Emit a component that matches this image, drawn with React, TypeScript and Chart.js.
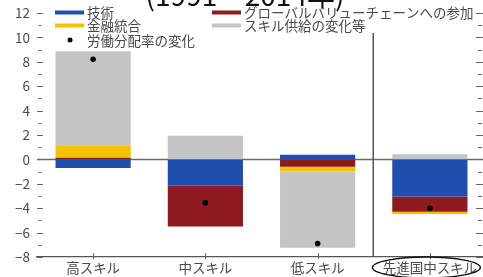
import React, { useEffect, useRef } from "react";
import { Chart, registerables } from "chart.js";

Chart.register(...registerables);

const categories = ["高スキル", "中スキル", "低スキル", "先進国中スキル"];
const technology = [-0.7, -2.15, 0.38, -3.05];
const gvc = [0.13, -3.35, -0.6, -1.25];
const financial = [1.02, 0, -0.4, -0.18];
const skillSupply = [7.72, 1.93, -6.25, 0.43];
const laborShare = [8.2, -3.55, -6.9, -4.0];
const yTicks = { min: -8, max: 12, step: 2 };
const titleText = "(1991 – 2014年)";
const legendItems = [
  { label: "技術", color: "#1f4fae", kind: "line" },
  { label: "グローバルバリューチェーンへの参加", color: "#8c1a1f", kind: "line" },
  { label: "金融統合", color: "#f5c200", kind: "line" },
  { label: "スキル供給の変化等", color: "#c4c4c4", kind: "line" },
  { label: "労働分配率の変化", color: "#000000", kind: "dot" },
];

const FONT = '"Noto Sans CJK JP", "Noto Sans", sans-serif';
const TEXT = "#4a4a4a";
const VIEW_W = 483;
const CANVAS_W = 490;

const decorPlugin = {
  id: "decor",
  beforeDatasetsDraw(chart: any) {
    const { ctx, chartArea, scales } = chart;
    const y = scales.y;
    const y0 = y.getPixelForValue(0);
    ctx.save();
    ctx.strokeStyle = "#6a6a6a";
    ctx.lineWidth = 1.5;
    ctx.beginPath();
    ctx.moveTo(chartArea.left, y0);
    ctx.lineTo(chartArea.right, y0);
    ctx.stroke();
    ctx.restore();
  },
  afterDraw(chart: any) {
    const { ctx, chartArea, scales } = chart;
    const y = scales.y;
    const x = scales.x;
    ctx.save();
    // y ticks left and right
    ctx.strokeStyle = "#666";
    ctx.lineWidth = 1;
    const rightEdge = VIEW_W;
    for (let v = yTicks.min; v <= yTicks.max; v++) {
      const py = Math.round(y.getPixelForValue(v)) + 0.5;
      const major = v % 2 === 0;
      ctx.beginPath();
      if (major) {
        ctx.moveTo(chartArea.left, py);
        ctx.lineTo(chartArea.left + 6, py);
        ctx.moveTo(rightEdge - 7, py);
        ctx.lineTo(rightEdge, py);
      } else {
        ctx.moveTo(chartArea.left + 1.5, py);
        ctx.lineTo(chartArea.left + 4.5, py);
        ctx.moveTo(rightEdge - 5, py);
        ctx.lineTo(rightEdge - 1, py);
      }
      ctx.stroke();
    }
    // x ticks
    categories.forEach((_, i) => {
      const px = Math.round(x.getPixelForValue(i)) + 0.5;
      ctx.beginPath();
      ctx.moveTo(px, chartArea.bottom - 4);
      ctx.lineTo(px, chartArea.bottom + 2);
      ctx.stroke();
    });
    // separator
    const sepX = (x.getPixelForValue(2) + x.getPixelForValue(3)) / 2 - 0.5;
    ctx.strokeStyle = "#555";
    ctx.lineWidth = 1.5;
    ctx.beginPath();
    ctx.moveTo(sepX, 33);
    ctx.lineTo(sepX, chartArea.bottom);
    ctx.stroke();
    // title (clipped at top)
    ctx.fillStyle = "#111";
    ctx.font = `28px ${FONT}`;
    ctx.textAlign = "center";
    ctx.textBaseline = "alphabetic";
    ctx.fillText(titleText, 245, 6);
    // legend
    ctx.font = `13.5px ${FONT}`;
    ctx.textAlign = "left";
    ctx.textBaseline = "middle";
    const pos = [
      { x: 55, y: 12.5 },
      { x: 212, y: 12.5 },
      { x: 55, y: 25.5 },
      { x: 212, y: 25.5 },
      { x: 55, y: 40 },
    ];
    legendItems.forEach((it, i) => {
      const p = pos[i];
      if (it.kind === "line") {
        ctx.strokeStyle = it.color;
        ctx.lineWidth = 4;
        ctx.beginPath();
        ctx.moveTo(p.x, p.y);
        ctx.lineTo(p.x + 29, p.y);
        ctx.stroke();
      } else {
        ctx.fillStyle = "#000";
        ctx.beginPath();
        ctx.arc(p.x + 15, p.y, 2.5, 0, Math.PI * 2);
        ctx.fill();
      }
      ctx.fillStyle = TEXT;
      ctx.fillText(it.label, p.x + 32, p.y + 0.5);
    });
    // ellipse around last category label
    const cx = x.getPixelForValue(3);
    ctx.strokeStyle = "#111";
    ctx.lineWidth = 1.3;
    ctx.beginPath();
    ctx.ellipse(cx - 3.5, 267.5, 54, 10.5, 0, 0, Math.PI * 2);
    ctx.stroke();
    ctx.restore();
  },
};

export default function App() {
  const ref = useRef<HTMLCanvasElement | null>(null);
  useEffect(() => {
    if (!ref.current) return;
    const barCommon = { stack: "s", categoryPercentage: 1, barPercentage: 0.67, borderWidth: 0 };
    const chart = new Chart(ref.current, {
      type: "bar",
      data: {
        labels: categories,
        datasets: [
          { ...barCommon, label: "技術", data: technology, backgroundColor: "#1f4fae" },
          { ...barCommon, label: "グローバルバリューチェーンへの参加", data: gvc, backgroundColor: "#8c1a1f" },
          { ...barCommon, label: "金融統合", data: financial, backgroundColor: "#f5c200" },
          { ...barCommon, label: "スキル供給の変化等", data: skillSupply, backgroundColor: "#c4c4c4" },
          {
            type: "line",
            label: "労働分配率の変化",
            data: laborShare,
            stack: "dots",
            showLine: false,
            pointRadius: 2.8,
            pointBackgroundColor: "#000",
            pointBorderWidth: 0,
            borderColor: "#000",
            order: -1,
          } as any,
        ],
      },
      options: {
        animation: false,
        responsive: false,
        maintainAspectRatio: false,
        layout: { padding: { top: 13, right: 0, left: 0, bottom: 0 } },
        plugins: { legend: { display: false }, tooltip: { enabled: false }, title: { display: false } },
        scales: {
          x: {
            stacked: true,
            grid: { display: false, drawTicks: false },
            border: { display: true, color: "#555", width: 1.3 },
            ticks: { color: TEXT, font: { family: FONT, size: 13.5 }, padding: 3, maxRotation: 0, autoSkip: false },
            afterFit: (s: any) => { s.height = 20; s.paddingLeft = 0; s.paddingRight = 0; },
          },
          y: {
            stacked: true,
            min: yTicks.min,
            max: yTicks.max,
            grid: { display: false, drawTicks: false },
            border: { display: false },
            ticks: {
              stepSize: yTicks.step,
              color: TEXT,
              font: { family: FONT, size: 13.5 },
              padding: 7,
              callback: (v: any) => (v < 0 ? "−" + Math.abs(v) : String(v)),
            },
            afterFit: (s: any) => { s.width = 37; s.paddingTop = 0; s.paddingBottom = 0; },
          },
        },
      },
      plugins: [decorPlugin],
    } as any);
    return () => chart.destroy();
  }, []);
  return (
    <div style={{ position: "fixed", left: 0, top: 0, width: VIEW_W, height: 277, background: "#fff", overflow: "hidden" }}>
      <canvas ref={ref} width={CANVAS_W} height={277} style={{ width: CANVAS_W, height: 277, display: "block" }} />
    </div>
  );
}
